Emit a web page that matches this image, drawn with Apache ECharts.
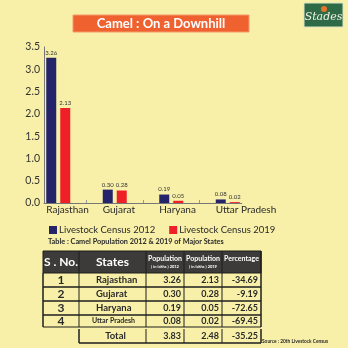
<!DOCTYPE html>
<html>
<head>
<meta charset="utf-8">
<script src="https://cdn.jsdelivr.net/npm/echarts@6/dist/echarts.min.js"></script>
<style>
  html, body { margin: 0; padding: 0; background: #f8f0a8; }
  #chart { width: 348px; height: 348px; }
</style>
</head>
<body>
<div id="chart"></div>
<script>
// Camel population by state, in lakhs
const states = ['Rajasthan', 'Gujarat', 'Haryana', 'Uttar Pradesh'];
const census2012 = [3.26, 0.30, 0.19, 0.08];
const census2019 = [2.13, 0.28, 0.05, 0.02];
const percentChange = ['-34.69', '-9.19', '-72.65', '-69.45'];
const totals = ['3.83', '2.48', '-35.25'];
const seriesNames = ['Livestock Census 2012', 'Livestock Census 2019'];
const yMin = 0, yMax = 3.5, yStep = 0.5;

const FONT = 'Lato, "Open Sans", sans-serif';
const chart = echarts.init(document.getElementById('chart'));

// ---- table drawn with graphic elements ----
const colX = [43, 79, 146, 184, 222, 261];
const rowY = [251, 273, 287, 301, 315, 328, 343];
const tableEls = [];
const line = (x1, y1, x2, y2, w) => tableEls.push({
  type: 'line', shape: { x1, y1, x2, y2 },
  style: { stroke: '#1e1e1e', lineWidth: w || 1 }
});
const txt = (x, y, text, opt) => tableEls.push({
  type: 'text', x, y,
  style: Object.assign({
    text, fill: '#2a2a2a', font: 'bold 9px ' + FONT,
    align: 'center', verticalAlign: 'middle'
  }, opt || {})
});

// header band
tableEls.push({
  type: 'rect', shape: { x: colX[0], y: rowY[0], width: colX[5] - colX[0], height: rowY[1] - rowY[0] },
  style: { fill: '#3c3b39', stroke: '#1e1e1e', lineWidth: 1 }
});
txt((colX[0] + colX[1]) / 2, 262, 'S . No.', { fill: '#fff', font: 'bold 12px ' + FONT });
txt((colX[1] + colX[2]) / 2, 262, 'States', { fill: '#fff', font: 'bold 12px ' + FONT });
txt((colX[2] + colX[3]) / 2, 259, 'Population', { fill: '#fff', font: 'bold 7px ' + FONT });
txt((colX[2] + colX[3]) / 2, 267, '( in lakhs ) 2012', { fill: '#fff', font: 'bold 4px ' + FONT });
txt((colX[3] + colX[4]) / 2, 259, 'Population', { fill: '#fff', font: 'bold 7px ' + FONT });
txt((colX[3] + colX[4]) / 2, 267, '( in lakhs ) 2019', { fill: '#fff', font: 'bold 4px ' + FONT });
txt((colX[4] + colX[5]) / 2, 259, 'Percentage', { fill: '#fff', font: 'bold 7px ' + FONT });
for (let c = 1; c < 5; c++) line(colX[c], rowY[0], colX[c], rowY[1]);

// body rows
for (let r = 0; r < states.length; r++) {
  const y0 = rowY[r + 1], y1 = rowY[r + 2] - (r === states.length - 1 ? 1 : 0);
  const cy = (y0 + y1) / 2;
  line(colX[0], y1, colX[5], y1, r === states.length - 1 ? 1.2 : 1.5);
  txt((colX[0] + colX[1]) / 2, cy, String(r + 1), { font: 'bold 12px ' + FONT });
  const isLong = states[r].length > 10;
  txt(isLong ? 92 : 96, cy, states[r], { align: 'left', font: (isLong ? 'bold 7px ' : 'bold 9.5px ') + FONT });
  txt(colX[3] - 3, cy, census2012[r].toFixed(2), { align: 'right', font: 'bold 9px ' + FONT });
  txt(colX[4] - 3, cy, census2019[r].toFixed(2), { align: 'right', font: 'bold 9px ' + FONT });
  txt(colX[5] - 3, cy, percentChange[r], { align: 'right', font: 'bold 9px ' + FONT });
}
const bodyBottom = rowY[states.length + 1] - 1;
line(colX[0], rowY[1], colX[0], bodyBottom, 1.5);
for (let c = 1; c < 6; c++) line(colX[c], rowY[1], colX[c], bodyBottom, c === 5 ? 1.5 : 1);
line(colX[5], rowY[0], colX[5], rowY[1], 1.5);

// total row
const tY0 = rowY[5] + 1, tY1 = rowY[6];
for (let c = 1; c < 6; c++) line(colX[c], tY0, colX[c], tY1, c === 1 || c === 5 ? 1.5 : 1);
line(colX[1], tY1, colX[5], tY1, 1.5);
txt((colX[1] + colX[2]) / 2 + 3, (tY0 + tY1) / 2, 'Total', { font: 'bold 9.5px ' + FONT });
txt(colX[3] - 3, (tY0 + tY1) / 2, totals[0], { align: 'right', font: 'bold 9px ' + FONT });
txt(colX[4] - 3, (tY0 + tY1) / 2, totals[1], { align: 'right', font: 'bold 9px ' + FONT });
txt(colX[5] - 3, (tY0 + tY1) / 2, totals[2], { align: 'right', font: 'bold 9px ' + FONT });

const valueLabel = {
  show: true, position: 'top', distance: 2,
  color: '#333', fontSize: 6, fontFamily: FONT,
  formatter: p => p.value.toFixed(2)
};

const decorations = [
  // title band
  {
    type: 'rect', shape: { x: 73, y: 15, width: 176, height: 17 },
    style: { fill: '#ef6230', stroke: '#f59a6a', lineWidth: 1 }
  },
  {
    type: 'text', x: 161, y: 23.5,
    style: { text: 'Camel : On a Downhill', fill: '#fff', font: 'bold 13px ' + FONT, align: 'center', verticalAlign: 'middle' }
  },
  // badge, top right
  {
    type: 'rect', shape: { x: 304, y: 3, width: 39, height: 24 },
    style: { fill: '#2f6a46', stroke: '#d9e4c8', lineWidth: 1 }
  },
  { type: 'circle', shape: { cx: 324, cy: 9, r: 3 }, style: { fill: '#e8742c' } },
  {
    type: 'text', x: 323.5, y: 17,
    style: { text: 'Stades', fill: '#f2f2e6', font: 'italic 11px "DejaVu Serif", serif', align: 'center', verticalAlign: 'middle' }
  },
  // table caption
  {
    type: 'text', x: 48, y: 242,
    style: { text: 'Table : Camel Population 2012 & 2019 of Major States', fill: '#2a2a2a', font: 'bold 7.3px ' + FONT, verticalAlign: 'middle' }
  },
  {
    type: 'text', x: 262, y: 341,
    style: { text: 'Source : 20th Livestock Census', fill: '#2a2a2a', font: 'bold 4.8px ' + FONT, verticalAlign: 'middle' }
  }
].concat(tableEls);

chart.setOption({
  backgroundColor: '#f8f0a8',
  animation: false,
  textStyle: { fontFamily: FONT },
  legend: {
    left: 44, top: 220,
    icon: 'rect', itemWidth: 8, itemHeight: 8, itemGap: 14,
    textStyle: { color: '#2a2a2a', fontSize: 9.5, fontFamily: FONT, padding: [0, 0, 0, -3] },
    data: seriesNames
  },
  grid: [
    // frame holding the value axis and the baseline
    { left: 44, top: 47, width: 197.75, height: 156 },
    // bar area, one band per state
    { left: 30, top: 47, width: 226, height: 156 }
  ],
  xAxis: [
    {
      type: 'value', gridIndex: 0, min: 0.25, max: 3.75,
      axisLine: { show: true, lineStyle: { color: '#777', width: 1 } },
      axisTick: { show: true, inside: true, length: 3, customValues: [1, 2, 3], lineStyle: { color: '#999' } },
      axisLabel: { show: false }, splitLine: { show: false }
    },
    {
      type: 'category', gridIndex: 1, data: states,
      axisLine: { show: false }, axisTick: { show: false }, axisLabel: { show: false }
    }
  ],
  yAxis: [
    {
      type: 'value', gridIndex: 0, min: yMin, max: yMax, interval: yStep,
      axisLine: { show: true, lineStyle: { color: '#777', width: 1 } },
      axisTick: { show: false }, splitLine: { show: false },
      axisLabel: { color: '#333', fontSize: 10.5, fontFamily: FONT, margin: 4, formatter: v => v.toFixed(1) }
    },
    {
      type: 'value', gridIndex: 1, min: yMin, max: yMax, interval: yStep, show: false
    }
  ],
  series: [
    {
      name: seriesNames[0], type: 'bar', xAxisIndex: 1, yAxisIndex: 1,
      data: census2012, barWidth: 10, barGap: '40%',
      itemStyle: { color: '#25246b' }, label: valueLabel
    },
    {
      name: seriesNames[1], type: 'bar', xAxisIndex: 1, yAxisIndex: 1,
      data: census2019, barWidth: 10,
      itemStyle: { color: '#ee1f26' }, label: valueLabel
    }
  ],
  graphic: decorations
});

// State names: placed from the category scale, starting at each bar pair's left edge
const baseY = chart.convertToPixel({ yAxisIndex: 1 }, 0);
const stateLabels = states.map(s => ({
  type: 'text',
  x: chart.convertToPixel({ xAxisIndex: 1 }, s) - 12,
  y: baseY + 2,
  style: { text: s, fill: '#2a2a2a', font: '10px ' + FONT, align: 'left', verticalAlign: 'top' }
}));
chart.setOption({ graphic: decorations.concat(stateLabels) });
</script>
</body>
</html>
